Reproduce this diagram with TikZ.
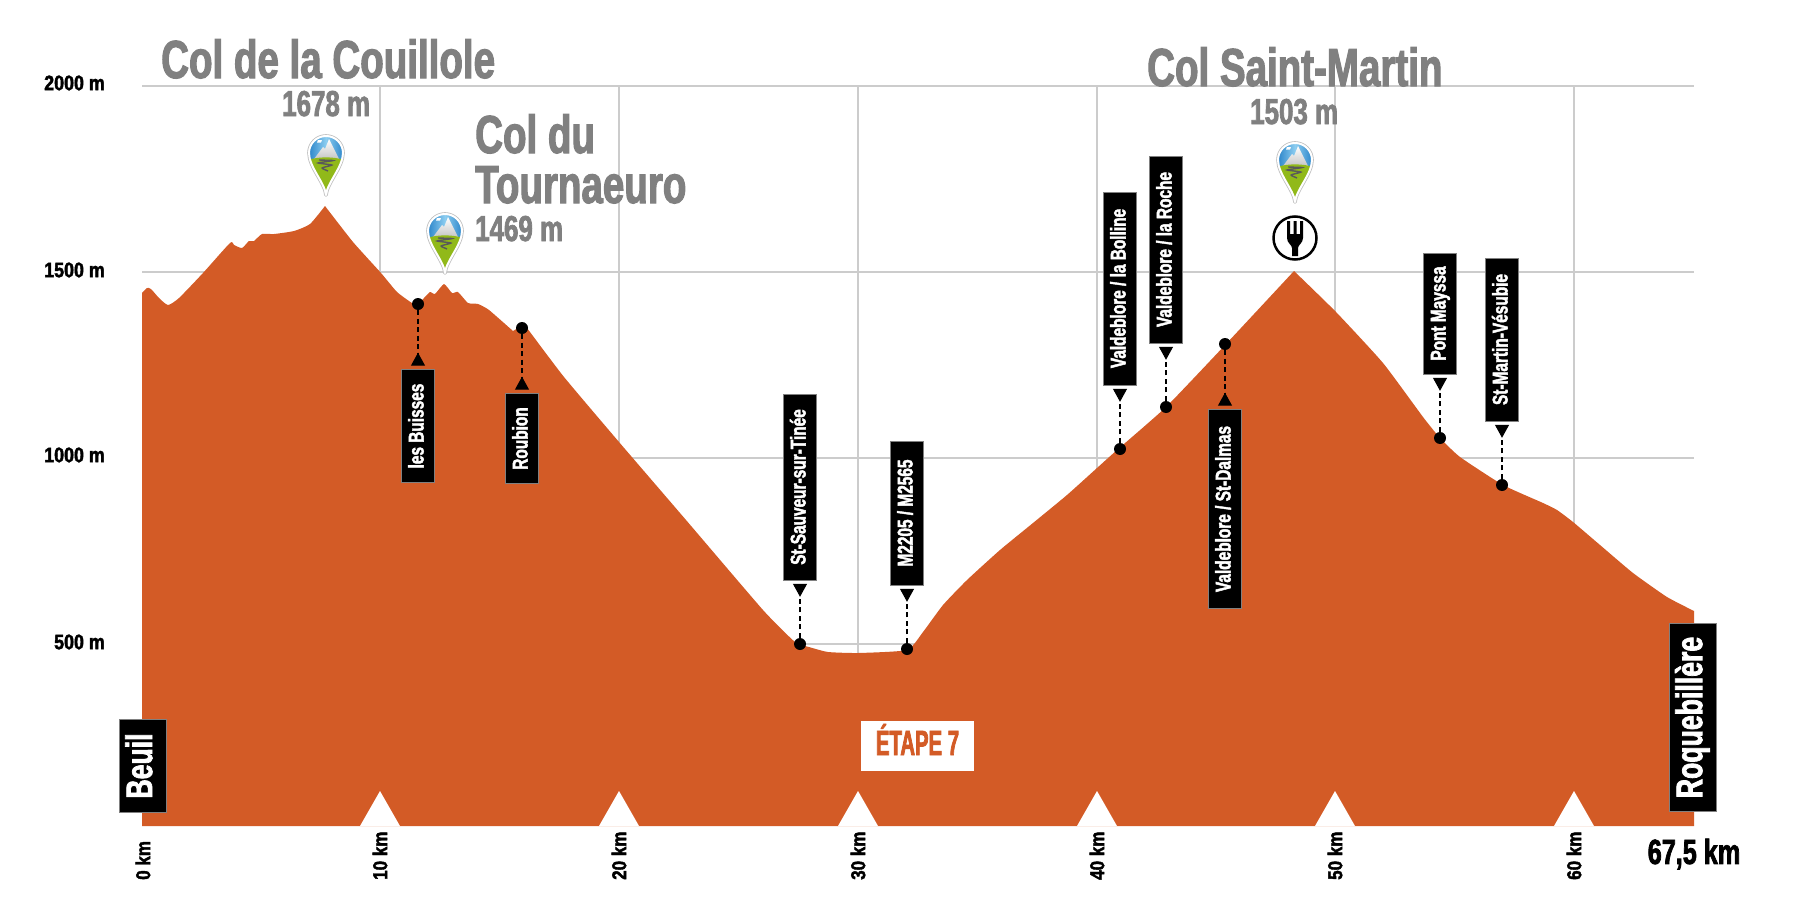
\documentclass[tikz,border=0pt]{standalone}
\usepackage{fontspec}
\usetikzlibrary{arrows.meta,positioning}
\newfontfamily\impactfont[FakeStretch=0.72,FakeBold=2]{Liberation Sans Bold}
\newfontfamily\widefont[FakeStretch=0.85,FakeBold=2]{Liberation Sans Bold}
\newfontfamily\narrowfont[FakeStretch=0.58,FakeBold=2]{Liberation Sans Bold}
\newcommand{\vlabel}[1]{\rotatebox{90}{\raisebox{-0.26em}[0pt][0pt]{#1}}}
\definecolor{profile}{RGB}{211,91,38}
\definecolor{titlegray}{RGB}{128,128,128}
\definecolor{gridgray}{RGB}{204,204,204}
\definecolor{pinsky}{RGB}{40,130,200}
\definecolor{pinlight}{RGB}{140,205,240}
\definecolor{pingreen}{RGB}{145,185,25}
\tikzset{
gridline/.style = {gridgray, line width=2pt},
labelbox/.style = {draw=gray, line width=0.6pt, fill=black, text=white, inner sep=0pt, minimum width=33.5pt,
  font=\impactfont\fontsize{21.4}{21.4}\selectfont},
endbox/.style = {labelbox, minimum width=47pt, font=\impactfont\fontsize{37}{37}\selectfont},
dotmark/.style = {fill=black, circle, inner sep=0pt, minimum size=12pt},
leader/.style = {black, line width=1.1pt, dash pattern=on 5pt off 3.5pt, shorten >=3.5pt},
altlabel/.style = {anchor=east, inner sep=0pt, font=\widefont\fontsize{21}{21}\selectfont},
kmlabel/.style = {rotate=90, anchor=west, inner sep=0pt, font=\widefont\fontsize{20}{20}\selectfont},
coltitle/.style = {titlegray, anchor=base west, inner sep=0pt, font=\impactfont\fontsize{53.5}{53.5}\selectfont},
colheight/.style = {titlegray, anchor=base west, inner sep=0pt, font=\impactfont\fontsize{36}{36}\selectfont},
pinshape/.style = {insert path={(0,42) .. controls (-1,30) and (-17,14) .. (-17,0)
  .. controls (-17,-9.4) and (-9.4,-17) .. (0,-17) .. controls (9.4,-17) and (17,-9.4) .. (17,0)
  .. controls (17,14) and (1,30) .. (0,42) -- cycle}},
pinmark/.pic = {
  \draw [gray!50, line width=3.6pt, line join=round, pinshape];
  \begin{scope}
    \clip [pinshape];
    \shade [left color=pinsky, right color=pinsky, middle color=pinlight] (-18,-18) rectangle (18,8);
    \fill [white] (-8,-13) -- (-4,-13) -- (-5,-10.5) -- (-9,-10.5) -- cycle;
    \shade [top color=white, bottom color=gray!45] (-12,6) -- (-3,-6) -- (-1,-4) -- (3,-14) -- (13,6) -- cycle;
    \fill [pingreen] (-18,7) .. controls (-8,3.5) and (8,3.5) .. (18,7) -- (18,44) -- (-18,44) -- cycle;
    \draw [gray!70!black, line width=1.4pt, rounded corners=2pt] (-7,7) -- (8,7.5) -- (-9,10) -- (7,12) -- (-5,15) -- (2,18);
  \end{scope}
  \draw [white, line width=2pt, line join=round, pinshape];
}
}

\begin{document}
\begin{tikzpicture}[x=1pt, y=-1pt, node distance=59pt, >={Triangle[reversed,length=13pt,width=14pt]}]
  \useasboundingbox (0,0) rectangle (1804,907);

  % grid
  \draw [gridline] (142,86) -- (1694,86);
  \draw [gridline] (142,272) -- (1694,272);
  \draw [gridline] (142,458) -- (1694,458);
  \draw [gridline] (142,644) -- (1694,644);
  \draw [gridline] (380,86) -- (380,826);
  \draw [gridline] (619,86) -- (619,826);
  \draw [gridline] (858,86) -- (858,826);
  \draw [gridline] (1097,86) -- (1097,826);
  \draw [gridline] (1335,86) -- (1335,826);
  \draw [gridline] (1574,86) -- (1574,826);

  % elevation profile
  \fill [profile] plot [smooth, tension=0.35] coordinates {
    (142,293) (147,288) (151,289) (159,298) (168,305) (179,298) (203,273) (230,243) (234,245)
    (242,248) (249,241) (254,241) (262,234) (274,234) (294,231) (310,224) (325,206)
  } -- plot [smooth, tension=0.3] coordinates {
    (325,206) (353,242) (381,273) (397,292) (412,303) (418,304) (424,298) (430,292) (435,294)
    (444,284) (452,293) (458,292) (468,303) (478,304) (489,310) (513,331)
  } -- plot [smooth, tension=0.3] coordinates {
    (513,331) (522,326) (527,328)
  } -- plot [smooth, tension=0.3] coordinates {
    (527,328) (564,377) (619,442) (686,520) (763,610) (795,642) (809,647) (828,652) (858,653)
    (907,650) (923,632) (943,605) (967,580) (1000,550) (1033,523) (1067,495) (1097,468) (1117,450)
    (1166,407) (1226,344) (1294,271)
  } -- plot [smooth, tension=0.3] coordinates {
    (1294,271) (1336,312) (1383,363) (1423,417) (1440,438) (1460,457) (1503,485) (1543,503) (1557,510)
    (1573,522) (1600,545) (1633,573) (1667,597) (1694,611)
  } -- (1694,826) -- (142,826) -- cycle;

  % km marks
  \fill [white] (360,826) -- (380,791) -- (400,826) -- cycle;
  \fill [white] (599,826) -- (619,791) -- (639,826) -- cycle;
  \fill [white] (838,826) -- (858,791) -- (878,826) -- cycle;
  \fill [white] (1077,826) -- (1097,791) -- (1117,826) -- cycle;
  \fill [white] (1315,826) -- (1335,791) -- (1355,826) -- cycle;
  \fill [white] (1554,826) -- (1574,791) -- (1594,826) -- cycle;

  \node [altlabel] (alt2000) at (105,83) {2000 m};
  \node [altlabel] (alt1500) at (105,270) {1500 m};
  \node [altlabel] (alt1000) at (105,455) {1000 m};
  \node [altlabel] (alt500) at (105,642) {500 m};

  \node [kmlabel] (km0) at (143,880) {0 km};
  \node [kmlabel] (km10) at (380,880) {10 km};
  \node [kmlabel] (km20) at (619,880) {20 km};
  \node [kmlabel] (km30) at (858,880) {30 km};
  \node [kmlabel] (km40) at (1097,880) {40 km};
  \node [kmlabel] (km50) at (1335,880) {50 km};
  \node [kmlabel] (km60) at (1574,880) {60 km};
  \node [inner sep=0pt, font=\impactfont\fontsize{35}{35}\selectfont] (kmend) at (1694,854) {67,5 km};

  % passes
  \node [coltitle] (couillole) at (161,78) {Col de la Couillole};
  \node [colheight] (couilloleh) at (282,116) {1678 m};
  \node [coltitle] (coldu) at (475,153) {Col du};
  \node [coltitle] (tournaeuro) at (475,203) {Tournaeuro};
  \node [colheight] (tournaeuroh) at (475,241) {1469 m};
  \node [coltitle] (martin) at (1147,86) {Col Saint-Martin};
  \node [colheight] (martinh) at (1250,124) {1503 m};

  \pic at (326,153) {pinmark};
  \pic at (445,231) {pinmark};
  \pic at (1295,160) {pinmark};

  \node [draw, line width=2.5pt, fill=white, circle, inner sep=0pt, minimum size=43pt] (meal) at (1295,238) {};
  \fill [black] (1287,221) -- (1290,221) -- (1290,234) -- (1293.5,234) -- (1293.5,221) -- (1296.5,221) -- (1296.5,234)
    -- (1300,234) -- (1300,221) -- (1303,221) -- (1303,238) .. controls (1303,243) and (1298,245) .. (1298,248)
    -- (1298,256) -- (1292,256) -- (1292,248) .. controls (1292,245) and (1287,243) .. (1287,238) -- cycle;

  % places
  \node [dotmark] (dotbuisses) at (418,304) {};
  \node [dotmark] (dotroubion) at (522,328) {};
  \node [dotmark] (dotsauveur) at (800,644) {};
  \node [dotmark] (dotm2205) at (907,649) {};
  \node [dotmark] (dotbolline) at (1120,449) {};
  \node [dotmark] (dotroche) at (1166,407) {};
  \node [dotmark] (dotdalmas) at (1225,344) {};
  \node [dotmark] (dotmayssa) at (1440,438) {};
  \node [dotmark] (dotvesubie) at (1502,485) {};

  \node [labelbox, minimum height=113pt, below=of dotbuisses] (boxbuisses) {\vlabel{les Buisses}};
  \node [labelbox, minimum height=90pt, below=of dotroubion] (boxroubion) {\vlabel{Roubion}};
  \node [labelbox, minimum height=186pt, above=57.5pt of dotsauveur] (boxsauveur) {\vlabel{St-Sauveur-sur-Tinée}};
  \node [labelbox, minimum height=144pt, above=57.5pt of dotm2205] (boxm2205) {\vlabel{M2205 / M2565}};
  \node [labelbox, minimum height=193pt, above=57.5pt of dotbolline] (boxbolline) {\vlabel{Valdeblore / la Bolline}};
  \node [labelbox, minimum height=187pt, above=57.5pt of dotroche] (boxroche) {\vlabel{Valdeblore / la Roche}};
  \node [labelbox, minimum height=199pt, below=of dotdalmas] (boxdalmas) {\vlabel{Valdeblore / St-Dalmas}};
  \node [labelbox, minimum height=121pt, above=57.5pt of dotmayssa] (boxmayssa) {\vlabel{Pont Mayssa}};
  \node [labelbox, minimum height=163pt, above=57.5pt of dotvesubie] (boxvesubie) {\vlabel{St-Martin-Vésubie}};

  \draw [->, leader] (dotbuisses) -- (boxbuisses);
  \draw [->, leader] (dotroubion) -- (boxroubion);
  \draw [->, leader] (dotsauveur) -- (boxsauveur);
  \draw [->, leader] (dotm2205) -- (boxm2205);
  \draw [->, leader] (dotbolline) -- (boxbolline);
  \draw [->, leader] (dotroche) -- (boxroche);
  \draw [->, leader] (dotdalmas) -- (boxdalmas);
  \draw [->, leader] (dotmayssa) -- (boxmayssa);
  \draw [->, leader] (dotvesubie) -- (boxvesubie);

  \node [endbox, minimum height=93pt] (start) at (142.5,766) {\vlabel{Beuil}};
  \node [endbox, minimum height=188pt] (finish) at (1692.5,717.5) {\vlabel{Roquebillère}};
  \node [fill=white, text=profile, inner sep=0pt, minimum width=113pt, minimum height=50pt,
    font=\narrowfont\fontsize{35}{35}\selectfont] (stage) at (917.5,746) {\raisebox{-9pt}[0pt][0pt]{ÉTAPE 7}};
\end{tikzpicture}
\end{document}
